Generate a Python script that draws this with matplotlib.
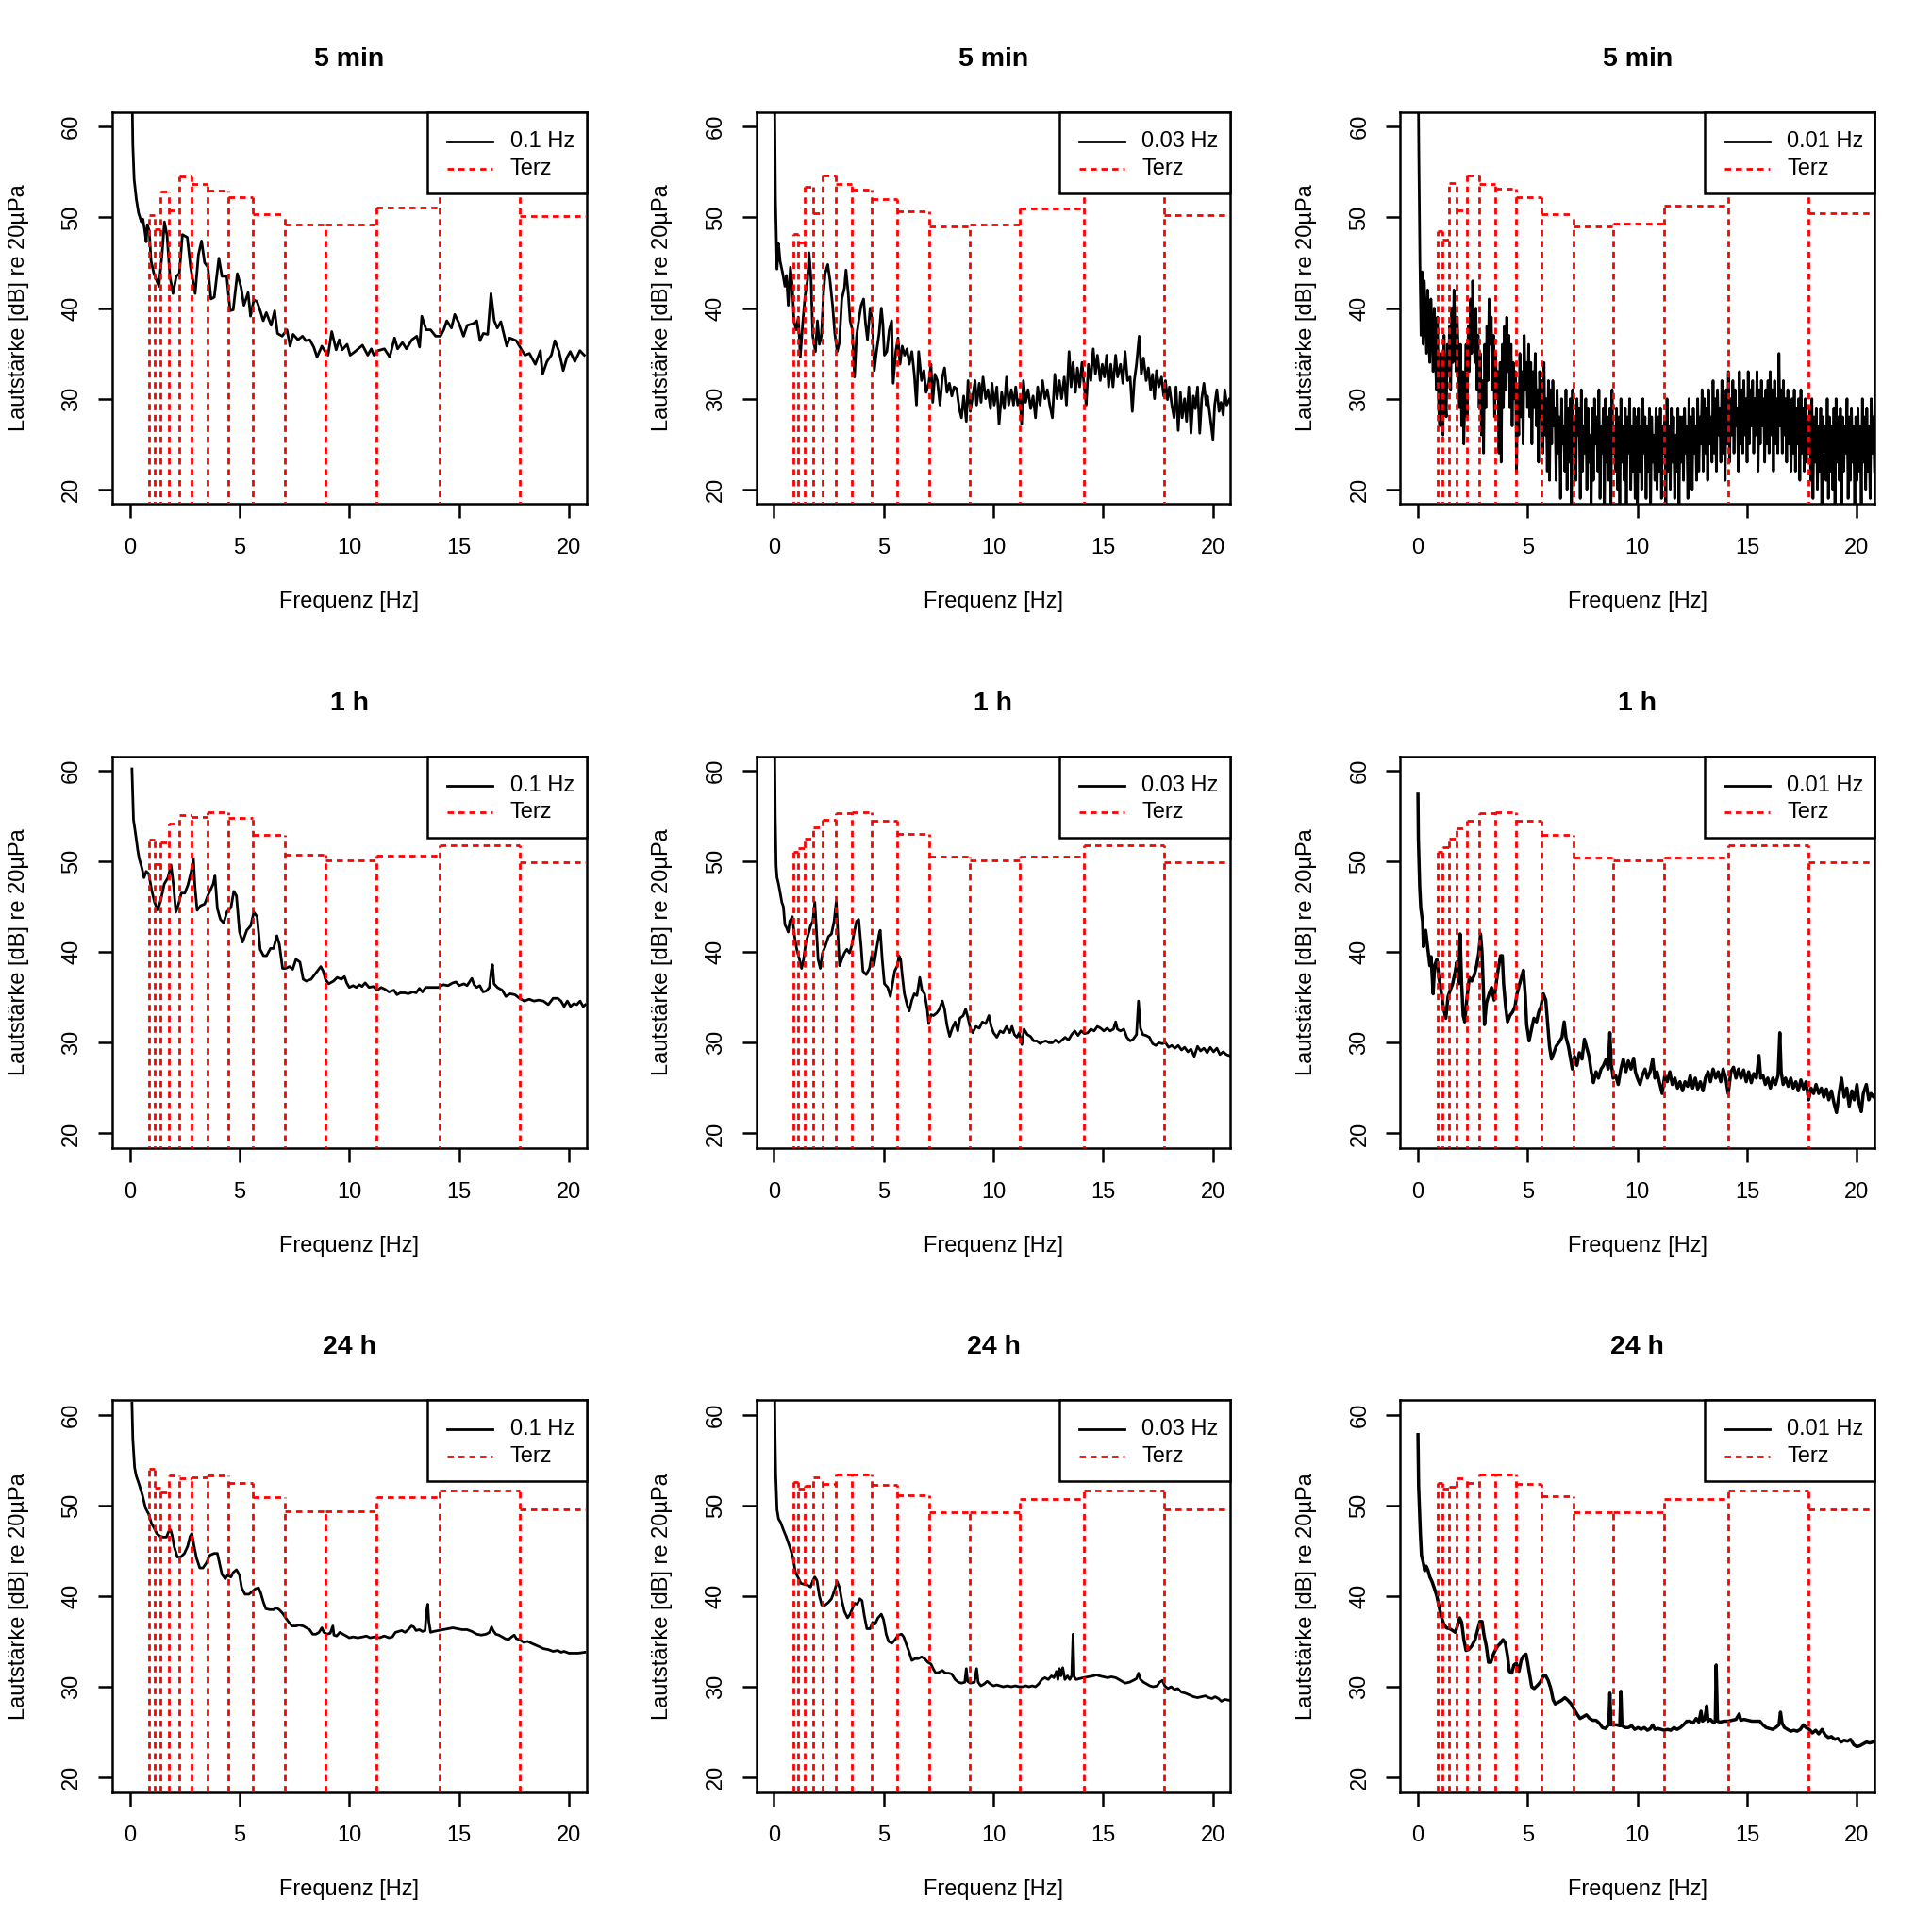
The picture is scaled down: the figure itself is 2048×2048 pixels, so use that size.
import numpy as np
import matplotlib.pyplot as plt
from matplotlib.patches import Rectangle
from matplotlib.lines import Line2D

plt.rcParams['font.family'] = ['Liberation Sans', 'DejaVu Sans']
plt.rcParams['lines.scale_dashes'] = False

# third-octave band centres (nominal) [Hz]
terz_fc = [1, 1.25, 1.6, 2, 2.5, 3.15, 4, 5, 6.3, 8, 10, 12.5, 16, 20]
row_titles = ['5 min', '1 h', '24 h']
col_labels = ['0.1 Hz', '0.03 Hz', '0.01 Hz']

# Terz levels [dB] per panel
terz_5min_01 = [50.3, 48.7, 52.9, 50.8, 54.5, 53.7, 53.0, 52.2, 50.4, 49.2, 49.2, 51.1, 53.5, 50.1]
terz_5min_003 = [48.2, 47.2, 53.4, 50.5, 54.6, 53.7, 53.1, 52.0, 50.7, 49.0, 49.2, 51.0, 53.5, 50.3]
terz_5min_001 = [48.5, 47.5, 53.8, 50.8, 54.6, 53.7, 53.2, 52.2, 50.4, 49.0, 49.3, 51.3, 53.5, 50.5]
terz_1h_01 = [52.4, 49.7, 52.1, 54.2, 55.1, 54.9, 55.4, 54.8, 52.9, 50.7, 50.1, 50.6, 51.8, 49.9]
terz_1h_003 = [51.1, 51.5, 52.5, 53.8, 54.6, 55.3, 55.4, 54.5, 53.0, 50.5, 50.1, 50.5, 51.8, 49.9]
terz_1h_001 = [51.0, 51.6, 52.5, 53.6, 54.5, 55.3, 55.4, 54.5, 52.9, 50.4, 50.1, 50.4, 51.8, 49.9]
terz_24h_01 = [54.0, 51.9, 51.4, 53.3, 53.0, 53.1, 53.3, 52.5, 50.9, 49.4, 49.3, 50.9, 51.6, 49.6]
terz_24h_003 = [52.6, 51.8, 52.2, 53.1, 52.4, 53.4, 53.4, 52.3, 51.1, 49.2, 49.2, 50.7, 51.6, 49.6]
terz_24h_001 = [52.5, 51.8, 52.1, 53.0, 52.5, 53.4, 53.4, 52.4, 51.0, 49.2, 49.2, 50.7, 51.6, 49.6]

# spectra as (frequency [Hz], level [dB])
spec_5min_01 = [
    (0.1, 65), (0.14, 58), (0.2, 54.2), (0.3, 52), (0.4, 50.5), (0.53, 49.5), (0.6, 49.8), (0.68, 48.6),
    (0.75, 47.3), (0.8, 49.2), (0.89, 48.5), (0.97, 45.2), (1.1, 43.8), (1.33, 42.4), (1.47, 45.9),
    (1.58, 49.5), (1.7, 48), (1.83, 43.5), (1.97, 41.6), (2.12, 43.5), (2.26, 43.8), (2.4, 48.1),
    (2.62, 47.8), (2.77, 44.5), (2.98, 41.6), (3.13, 45.9), (3.27, 47.4), (3.41, 45), (3.56, 44.5),
    (3.7, 41), (3.85, 41.2), (4.06, 45.5), (4.2, 43.5), (4.42, 43.5), (4.57, 39.7), (4.71, 39.8),
    (4.9, 43.8), (5.07, 42.3), (5.2, 40.3), (5.39, 41.7), (5.5, 39.1), (5.65, 40.9), (5.8, 40.7),
    (5.94, 39.7), (6.08, 38.6), (6.22, 39.5), (6.44, 38.1), (6.6, 39.7), (6.73, 37.2), (6.94, 36.9),
    (7.16, 37.6), (7.3, 35.8), (7.44, 37.1), (7.66, 36.5), (7.87, 36.9), (8.02, 36.4), (8.2, 36.5),
    (8.38, 35.7), (8.53, 34.6), (8.75, 35.8), (8.9, 35.2), (9.03, 34.8), (9.2, 37.4), (9.4, 35.4),
    (9.54, 36.5), (9.68, 35.4), (9.9, 36), (10.04, 34.8), (10.26, 35.2), (10.5, 35.7), (10.6, 35.9),
    (10.84, 34.8), (11.0, 35.5), (11.12, 34.8), (11.3, 35.3), (11.6, 35.5), (11.84, 34.6), (12.06, 36.7),
    (12.2, 35.5), (12.42, 36.2), (12.6, 35.5), (12.85, 36.5), (13.07, 36.9), (13.2, 35.7), (13.3, 39.1),
    (13.5, 37.6), (13.7, 37.6), (13.93, 36.9), (14.15, 36.9), (14.3, 37.6), (14.44, 38.6), (14.65, 37.8),
    (14.8, 39.3), (15.0, 38.3), (15.2, 36.9), (15.37, 38.1), (15.65, 38.3), (15.8, 38.6), (15.95, 36.4),
    (16.1, 37.2), (16.3, 37.1), (16.45, 41.6), (16.6, 38.6), (16.74, 37.8), (16.9, 38.5), (17.03, 37.2),
    (17.17, 35.8), (17.3, 36.7), (17.6, 36.4), (17.82, 35.5), (18.0, 34.8), (18.2, 35), (18.47, 33.8),
    (18.7, 35.3), (18.8, 32.7), (19.0, 34.1), (19.2, 34.8), (19.36, 36.4), (19.55, 35.2), (19.74, 33.1),
    (19.9, 34.5), (20.06, 35.2), (20.27, 34.1), (20.5, 35.3), (20.7, 34.8)]

spec_5min_003 = [
    (0.03, 66), (0.08, 52), (0.12, 47.3), (0.15, 44.3), (0.22, 47.1), (0.29, 45.2), (0.41, 43.8),
    (0.51, 42.4), (0.58, 43.6), (0.66, 40.3), (0.76, 44.5), (0.85, 42.4), (0.92, 38.6), (1.02, 37.6),
    (1.12, 39), (1.21, 34.6), (1.32, 38.3), (1.43, 41.4), (1.54, 43.1), (1.61, 46.1), (1.7, 43.1),
    (1.78, 36.9), (1.9, 35.2), (1.99, 38.6), (2.08, 36), (2.17, 36.9), (2.27, 41.7), (2.34, 43.8),
    (2.46, 44.8), (2.56, 43.1), (2.68, 40.3), (2.78, 37.2), (2.89, 35.2), (2.99, 36.2), (3.1, 41),
    (3.22, 42.2), (3.29, 44.2), (3.39, 41.7), (3.48, 38.6), (3.58, 37.6), (3.68, 32.4), (3.77, 36.9),
    (3.87, 38.6), (3.98, 40.3), (4.09, 41), (4.18, 38.3), (4.27, 36.5), (4.39, 40), (4.5, 38.3),
    (4.58, 33.1), (4.68, 35.2), (4.8, 37.2), (4.9, 40), (4.97, 38.3), (5.04, 34.8), (5.15, 35.2),
    (5.26, 37.6), (5.37, 38.6), (5.44, 31.7), (5.56, 35.2), (5.66, 36.7), (5.75, 33.8), (5.85, 35.8),
    (5.96, 34.8), (6.07, 35.5), (6.17, 33.8), (6.29, 35.2), (6.4, 32.7), (6.5, 29.3), (6.6, 35.2),
    (6.73, 32), (6.84, 33.1), (6.94, 30.7), (7.06, 31.7), (7.16, 33.8), (7.24, 29.6), (7.34, 32.7),
    (7.45, 32), (7.57, 29.3), (7.68, 32.4), (7.78, 33.4), (7.89, 30.7), (8.0, 31.7), (8.11, 30.3),
    (8.21, 31.3), (8.33, 31.1), (8.45, 28.9), (8.55, 27.9), (8.65, 30.3), (8.77, 27.5), (8.85, 32),
    (8.95, 28.6), (9.06, 30.3), (9.17, 32), (9.24, 29.3), (9.36, 31.7), (9.44, 29.6), (9.53, 32.4),
    (9.65, 30), (9.75, 31), (9.87, 28.9), (9.94, 31.7), (10.04, 29.3), (10.16, 31.3), (10.26, 27.2),
    (10.38, 30.7), (10.5, 28.9), (10.6, 32.4), (10.7, 29.3), (10.82, 31), (10.92, 29.3), (11.02, 31.3),
    (11.11, 29.3), (11.21, 30), (11.29, 27.2), (11.37, 32), (11.47, 29.6), (11.58, 31), (11.7, 28.9),
    (11.81, 30.3), (11.92, 27.9), (12.02, 31.3), (12.13, 29.3), (12.24, 32), (12.35, 30), (12.46, 31),
    (12.57, 29.3), (12.69, 27.9), (12.8, 32.7), (12.9, 30), (13.01, 32), (13.11, 30), (13.23, 32.4),
    (13.33, 29.3), (13.45, 35.2), (13.54, 31.3), (13.63, 34), (13.74, 30.7), (13.83, 33.4), (13.93, 31.3),
    (14.04, 34), (14.14, 31.3), (14.23, 29.3), (14.33, 33.8), (14.44, 32), (14.55, 35.5), (14.65, 32.7),
    (14.74, 34.8), (14.87, 32), (14.96, 33.8), (15.06, 32.4), (15.16, 34.8), (15.25, 31.3), (15.35, 33.8),
    (15.45, 31.3), (15.57, 34.8), (15.66, 32.4), (15.79, 33.8), (15.9, 31.7), (16.0, 35.2), (16.11, 32),
    (16.23, 32.4), (16.33, 28.6), (16.42, 32), (16.52, 33.8), (16.64, 36.9), (16.74, 32.7), (16.84, 34.5),
    (16.96, 32), (17.06, 33.4), (17.16, 31), (17.25, 32.7), (17.34, 30), (17.43, 33.1), (17.54, 31.3),
    (17.66, 32.4), (17.76, 30.3), (17.84, 32), (17.93, 29.9), (18.02, 31.3), (18.13, 29.3), (18.23, 27.9),
    (18.32, 31.3), (18.42, 26.5), (18.52, 30.7), (18.6, 27.9), (18.71, 30), (18.8, 27.5), (18.9, 31.3),
    (19.0, 26.2), (19.11, 30.3), (19.2, 28.9), (19.3, 31.3), (19.4, 26.2), (19.49, 30), (19.59, 31.7),
    (19.7, 29.3), (19.75, 30.3), (19.88, 27.9), (20.0, 25.5), (20.08, 29.3), (20.18, 31), (20.28, 28.6),
    (20.37, 29.6), (20.47, 28.2), (20.54, 31), (20.63, 29.3), (20.76, 30), (20.85, 29)]

# 0.01 Hz panel: one start point, then levels on a 0.05 Hz grid (0.05 ... 20.8 Hz)
f_5min_001 = np.concatenate([[0.02], np.arange(1, 417) * 0.05])
L_5min_001 = [
    66,
    57, 45, 37, 44, 36, 43, 39, 35, 42, 36, 34, 41, 38, 33, 40, 35, 31, 39, 29, 27,
    35, 31, 26, 37, 30, 28, 36, 33, 38, 31, 40, 34, 42, 38, 33, 39, 35, 29, 36, 27,
    33, 25, 30, 36, 28, 38, 33, 41, 35, 43, 38, 34, 40, 31, 37, 29, 35, 26, 32, 24,
    36, 29, 38, 32, 41, 36, 39, 31, 37, 28, 35, 30, 33, 24, 34, 23, 36, 29, 38, 31,
    39, 33, 37, 29, 36, 27, 34, 30, 33, 22, 31, 26, 35, 28, 33, 25, 37, 31, 34, 29,
    36, 28, 34, 25, 33, 29, 35, 27, 31, 23, 33, 28, 32, 24, 34, 26, 30, 22, 32, 21,
    31, 25, 32, 27, 29, 21, 31, 24, 28, 19, 30, 25, 27, 22, 31, 20, 29, 23, 30, 18,
    31, 24, 28, 21, 30, 26, 29, 19, 31, 22, 27, 24, 30, 20, 29, 23, 26, 18, 29, 21,
    30, 25, 28, 22, 31, 19, 27, 24, 29, 17, 30, 23, 28, 21, 29, 18, 31, 24, 27, 22,
    29, 20, 28, 17, 30, 23, 27, 21, 29, 18, 28, 24, 30, 20, 27, 22, 29, 19, 28, 17,
    29, 22, 27, 20, 30, 24, 28, 19, 27, 22, 29, 17, 28, 23, 26, 21, 29, 20, 28, 22,
    29, 19, 27, 24, 28, 18, 30, 22, 27, 20, 29, 23, 28, 19, 26, 22, 29, 18, 28, 23,
    28, 21, 29, 24, 27, 19, 30, 23, 28, 20, 29, 24, 27, 21, 30, 22, 28, 25, 31, 22,
    30, 24, 29, 21, 31, 25, 28, 23, 32, 24, 30, 22, 31, 26, 29, 23, 32, 24, 30, 21,
    31, 25, 33, 23, 30, 26, 32, 24, 31, 27, 29, 22, 33, 25, 31, 24, 32, 26, 30, 23,
    33, 25, 31, 27, 32, 24, 30, 26, 33, 22, 31, 25, 32, 27, 30, 23, 31, 25, 32, 24,
    33, 26, 31, 22, 32, 25, 30, 24, 35, 27, 31, 24, 32, 26, 30, 23, 31, 25, 29, 22,
    30, 24, 31, 22, 29, 25, 30, 21, 31, 24, 29, 22, 30, 23, 28, 24, 29, 21, 30, 19,
    28, 23, 29, 20, 27, 22, 29, 18, 28, 24, 27, 21, 30, 19, 28, 22, 27, 20, 29, 18,
    30, 23, 28, 21, 29, 18, 28, 22, 27, 24, 30, 19, 28, 21, 29, 23, 27, 18, 28, 21,
    29, 22, 27, 18, 30, 23, 28, 20, 29, 22, 27, 19, 30, 24, 28, 22]

spec_1h_01 = [
    (0.1, 60.2), (0.17, 54.6), (0.26, 53.1), (0.36, 51.3), (0.43, 50.3), (0.55, 49.3), (0.65, 48.2),
    (0.75, 48.9), (0.87, 48.6), (0.99, 46.9), (1.13, 45.5), (1.28, 44.6), (1.42, 45.8), (1.57, 47.5),
    (1.74, 48.2), (1.88, 49.6), (2.0, 47.2), (2.1, 44.4), (2.2, 45.1), (2.35, 46.5), (2.51, 46.5),
    (2.65, 47.4), (2.8, 48.9), (2.9, 50.3), (2.97, 47.2), (3.07, 44.6), (3.22, 45.1), (3.41, 45.3),
    (3.55, 46.2), (3.65, 46.7), (3.8, 47.5), (3.88, 48.4), (3.99, 44.8), (4.13, 43.6), (4.28, 43.2),
    (4.42, 44.4), (4.61, 44.9), (4.74, 46.7), (4.86, 46.2), (5.0, 42.2), (5.14, 41.1), (5.33, 42.4),
    (5.51, 42.9), (5.65, 44.4), (5.8, 43.9), (5.94, 40.3), (6.09, 39.6), (6.23, 39.6), (6.41, 40.4),
    (6.55, 40.4), (6.7, 41.8), (6.81, 40.9), (6.96, 38.2), (7.1, 38.2), (7.28, 38.4), (7.42, 38.1),
    (7.57, 39.2), (7.75, 38.9), (7.9, 37.0), (8.04, 36.8), (8.26, 37.0), (8.48, 37.7), (8.7, 38.4),
    (8.81, 37.9), (8.91, 37.0), (9.06, 36.5), (9.28, 36.8), (9.45, 37.2), (9.64, 37.0), (9.78, 37.3),
    (9.88, 36.6), (10.0, 36.1), (10.17, 36.3), (10.32, 36.1), (10.46, 36.4), (10.58, 36.2), (10.72, 36.6),
    (10.9, 36.1), (11.09, 36.2), (11.28, 35.8), (11.45, 36.1), (11.62, 35.9), (11.81, 35.6), (12.03, 35.8),
    (12.17, 35.3), (12.32, 35.5), (12.54, 35.5), (12.68, 35.4), (12.9, 35.6), (13.04, 35.5), (13.19, 36.0),
    (13.33, 35.6), (13.48, 36.1), (13.7, 36.1), (13.88, 36.1), (14.06, 36.1), (14.28, 36.4), (14.49, 36.3),
    (14.71, 36.6), (14.86, 36.7), (15.0, 36.3), (15.22, 36.5), (15.36, 36.3), (15.58, 37.1), (15.68, 36.4),
    (15.8, 36.1), (15.94, 36.3), (16.09, 35.6), (16.23, 35.7), (16.38, 36.1), (16.46, 37.9), (16.52, 38.6),
    (16.59, 36.5), (16.74, 36.1), (16.96, 35.8), (17.13, 35.1), (17.32, 35.4), (17.54, 35.3), (17.75, 34.9),
    (17.97, 34.6), (18.19, 34.8), (18.41, 34.6), (18.62, 34.7), (18.84, 34.6), (19.06, 34.2), (19.28, 34.9),
    (19.49, 34.9), (19.64, 34.6), (19.78, 34.0), (19.93, 34.6), (20.07, 34.0), (20.22, 34.3), (20.36, 34.2),
    (20.51, 34.6), (20.65, 34.0), (20.75, 34.2)]

spec_1h_003 = [
    (0.03, 66), (0.07, 55), (0.11, 49.5), (0.15, 48.2), (0.22, 47.5), (0.37, 45.5), (0.44, 45.0),
    (0.51, 43.0), (0.58, 42.7), (0.66, 42.2), (0.73, 43.4), (0.85, 43.9), (0.95, 41.7), (1.05, 40.3),
    (1.17, 39.2), (1.27, 38.2), (1.36, 39.2), (1.46, 41.0), (1.58, 42.0), (1.68, 42.9), (1.78, 43.4),
    (1.87, 45.5), (1.93, 43.1), (2.02, 39.2), (2.12, 38.2), (2.22, 39.9), (2.34, 40.6), (2.49, 41.7),
    (2.63, 42.0), (2.75, 43.4), (2.85, 45.6), (2.92, 42.0), (3.0, 38.5), (3.1, 39.2), (3.22, 39.9),
    (3.33, 40.3), (3.45, 39.9), (3.54, 40.6), (3.65, 42.0), (3.77, 43.4), (3.87, 43.6), (3.98, 40.6),
    (4.06, 37.9), (4.21, 37.5), (4.36, 38.2), (4.46, 39.6), (4.56, 38.5), (4.68, 40.3), (4.8, 42.0),
    (4.85, 42.4), (4.94, 39.2), (5.04, 36.5), (5.19, 36.1), (5.31, 35.1), (5.41, 36.5), (5.51, 37.9),
    (5.63, 38.5), (5.7, 39.6), (5.78, 39.2), (5.85, 37.5), (5.95, 35.4), (6.07, 34.2), (6.17, 33.5),
    (6.29, 34.7), (6.4, 35.4), (6.52, 35.2), (6.65, 37.2), (6.75, 35.8), (6.87, 35.4), (6.99, 33.7),
    (7.06, 32.1), (7.16, 33.1), (7.28, 33.0), (7.43, 33.3), (7.54, 33.7), (7.68, 34.6), (7.78, 33.7),
    (7.89, 31.9), (8.01, 30.7), (8.13, 31.6), (8.26, 32.3), (8.38, 31.3), (8.48, 32.7), (8.63, 33.0),
    (8.74, 33.7), (8.85, 32.7), (8.95, 31.6), (9.06, 31.1), (9.21, 31.8), (9.36, 31.6), (9.5, 32.3),
    (9.65, 32.1), (9.8, 33.0), (9.9, 31.8), (10.01, 31.1), (10.16, 30.6), (10.31, 31.3), (10.45, 31.1),
    (10.6, 31.8), (10.75, 31.1), (10.85, 31.8), (10.96, 30.9), (11.08, 30.6), (11.18, 31.1), (11.3, 29.8),
    (11.4, 31.5), (11.55, 30.9), (11.69, 30.7), (11.84, 30.2), (11.98, 30.2), (12.13, 29.9), (12.25, 30.1),
    (12.4, 30.2), (12.54, 30.0), (12.69, 30.0), (12.83, 30.3), (12.98, 30.0), (13.13, 30.3), (13.27, 30.6),
    (13.42, 30.3), (13.57, 30.9), (13.71, 31.3), (13.86, 30.8), (14.0, 31.3), (14.15, 31.0), (14.3, 31.1),
    (14.44, 31.5), (14.59, 31.3), (14.74, 31.8), (14.89, 31.6), (15.03, 31.3), (15.18, 31.6), (15.32, 31.3),
    (15.47, 31.5), (15.57, 32.3), (15.65, 31.5), (15.79, 31.3), (15.94, 31.5), (16.08, 30.6), (16.23, 30.2),
    (16.37, 30.4), (16.52, 30.9), (16.61, 34.6), (16.7, 31.6), (16.81, 30.9), (16.96, 30.8), (17.11, 30.6),
    (17.25, 29.9), (17.4, 29.7), (17.54, 30.0), (17.69, 29.9), (17.84, 30.0), (17.98, 29.5), (18.13, 29.7),
    (18.27, 29.4), (18.42, 29.7), (18.57, 29.2), (18.71, 29.5), (18.86, 29.0), (19.0, 29.3), (19.15, 28.5),
    (19.3, 29.6), (19.44, 29.1), (19.59, 29.4), (19.74, 28.9), (19.88, 29.5), (20.03, 29.0), (20.18, 29.4),
    (20.32, 28.7), (20.47, 29.0), (20.61, 28.7), (20.83, 28.5)]

spec_1h_001 = [
    (0.01, 57.4), (0.03, 52.4), (0.09, 47.2), (0.14, 44.8), (0.22, 43.4), (0.26, 40.6), (0.36, 42.4),
    (0.46, 40.3), (0.55, 38.5), (0.61, 39.5), (0.7, 35.4), (0.77, 38.5), (0.87, 39.2), (0.96, 37.2),
    (1.04, 36.1), (1.16, 34.0), (1.28, 32.7), (1.38, 35.1), (1.48, 35.8), (1.59, 36.5), (1.71, 37.9),
    (1.78, 38.9), (1.86, 36.5), (1.93, 42.0), (2.0, 36.5), (2.07, 33.0), (2.14, 32.3), (2.25, 35.1),
    (2.35, 37.2), (2.46, 36.8), (2.58, 37.5), (2.68, 38.5), (2.78, 39.9), (2.86, 42.0), (2.93, 39.9),
    (2.99, 35.8), (3.04, 32.0), (3.13, 34.4), (3.25, 35.4), (3.36, 36.1), (3.48, 34.7), (3.57, 36.5),
    (3.67, 38.2), (3.77, 39.6), (3.85, 39.6), (3.91, 36.5), (4.0, 34.0), (4.09, 32.3), (4.2, 33.0),
    (4.32, 33.4), (4.43, 34.0), (4.52, 35.4), (4.64, 36.5), (4.72, 37.2), (4.81, 38.0), (4.9, 35.1),
    (4.96, 32.0), (5.07, 30.2), (5.19, 31.6), (5.29, 32.7), (5.41, 32.3), (5.51, 33.4), (5.61, 34.0),
    (5.72, 35.4), (5.83, 34.7), (5.91, 32.3), (6.0, 29.6), (6.09, 28.2), (6.2, 28.9), (6.3, 29.6),
    (6.45, 30.1), (6.57, 30.6), (6.67, 32.3), (6.75, 30.6), (6.86, 29.6), (6.96, 28.2), (7.04, 27.1),
    (7.14, 28.5), (7.25, 27.5), (7.36, 28.9), (7.48, 28.2), (7.59, 30.4), (7.68, 29.6), (7.8, 28.5),
    (7.9, 26.8), (8.0, 25.6), (8.12, 26.8), (8.23, 26.1), (8.35, 27.1), (8.46, 27.5), (8.58, 28.2),
    (8.67, 27.1), (8.75, 31.1), (8.81, 27.8), (8.9, 26.1), (9.01, 26.4), (9.13, 25.4), (9.25, 27.1),
    (9.36, 28.2), (9.48, 26.8), (9.59, 28.0), (9.71, 27.1), (9.83, 28.3), (9.91, 26.8), (10.0, 26.1),
    (10.12, 25.4), (10.23, 26.4), (10.35, 27.1), (10.46, 26.1), (10.58, 26.8), (10.7, 28.2), (10.8, 26.1),
    (10.9, 26.8), (11.01, 25.6), (11.13, 24.4), (11.25, 26.4), (11.36, 25.7), (11.48, 26.8), (11.59, 25.4),
    (11.71, 26.1), (11.83, 25.0), (11.94, 25.7), (12.06, 24.7), (12.17, 25.7), (12.29, 25.2), (12.41, 26.4),
    (12.52, 25.0), (12.64, 26.1), (12.75, 24.9), (12.87, 25.7), (12.99, 24.7), (13.1, 26.1), (13.22, 26.8),
    (13.33, 25.7), (13.45, 27.1), (13.57, 26.1), (13.68, 26.8), (13.8, 25.7), (13.91, 27.1), (14.03, 26.1),
    (14.14, 24.4), (14.26, 26.8), (14.38, 27.3), (14.49, 26.1), (14.61, 27.1), (14.72, 26.1), (14.84, 27.0),
    (14.96, 25.7), (15.07, 26.8), (15.19, 25.6), (15.3, 26.6), (15.42, 26.1), (15.54, 28.6), (15.62, 26.1),
    (15.72, 26.4), (15.83, 25.4), (15.94, 26.1), (16.06, 25.0), (16.17, 26.1), (16.29, 25.4), (16.41, 26.4),
    (16.49, 31.1), (16.55, 26.8), (16.64, 25.4), (16.75, 26.1), (16.87, 25.2), (16.99, 26.1), (17.1, 25.0),
    (17.22, 25.7), (17.33, 24.7), (17.45, 25.9), (17.57, 24.9), (17.68, 25.7), (17.8, 23.7), (17.91, 25.0),
    (18.03, 24.4), (18.14, 25.4), (18.26, 24.4), (18.38, 25.0), (18.49, 24.0), (18.61, 24.9), (18.72, 23.7),
    (18.84, 24.7), (18.96, 23.3), (19.07, 22.3), (19.19, 24.4), (19.3, 26.1), (19.42, 24.0), (19.54, 25.0),
    (19.65, 23.0), (19.77, 24.7), (19.88, 23.7), (20.0, 25.4), (20.1, 23.3), (20.2, 22.4), (20.29, 24.4),
    (20.43, 25.4), (20.54, 23.7), (20.64, 24.4), (20.76, 24.0), (20.85, 24.5)]

spec_24h_01 = [
    (0.1, 61.3), (0.14, 57.3), (0.22, 54.2), (0.29, 53.3), (0.43, 52.3), (0.58, 51.1), (0.72, 49.7),
    (0.87, 49.0), (0.99, 48.0), (1.09, 47.6), (1.23, 46.9), (1.38, 46.6), (1.52, 46.5), (1.67, 46.5),
    (1.77, 47.1), (1.86, 47.3), (1.93, 46.7), (2.03, 45.4), (2.17, 44.3), (2.32, 44.3), (2.49, 44.7),
    (2.64, 45.5), (2.75, 46.6), (2.83, 46.9), (2.93, 45.5), (3.04, 44.2), (3.19, 43.1), (3.33, 43.1),
    (3.48, 43.6), (3.65, 44.5), (3.84, 44.7), (3.99, 44.7), (4.09, 43.6), (4.2, 42.4), (4.35, 41.9),
    (4.46, 42.3), (4.61, 42.1), (4.71, 42.6), (4.86, 42.9), (5.0, 42.3), (5.1, 40.9), (5.25, 40.2),
    (5.43, 40.2), (5.58, 40.5), (5.72, 40.8), (5.87, 40.9), (5.97, 40.3), (6.09, 39.3), (6.2, 38.6),
    (6.38, 38.5), (6.55, 38.5), (6.67, 38.7), (6.81, 38.5), (6.96, 38.1), (7.1, 37.6), (7.25, 37.1),
    (7.39, 36.7), (7.57, 36.7), (7.71, 36.8), (7.9, 36.7), (8.04, 36.5), (8.19, 36.3), (8.33, 35.8),
    (8.48, 35.8), (8.62, 36.0), (8.75, 36.5), (8.84, 36.0), (8.99, 35.8), (9.13, 35.9), (9.25, 36.7),
    (9.3, 35.7), (9.42, 35.6), (9.57, 36.0), (9.71, 35.8), (9.86, 35.6), (10.0, 35.4), (10.17, 35.5),
    (10.39, 35.4), (10.61, 35.5), (10.78, 35.6), (10.94, 35.4), (11.16, 35.5), (11.38, 35.4), (11.59, 35.6),
    (11.81, 35.4), (11.96, 35.5), (12.1, 36.0), (12.25, 36.1), (12.39, 36.2), (12.54, 36.0), (12.68, 36.3),
    (12.83, 36.7), (12.93, 36.6), (13.04, 36.2), (13.19, 36.3), (13.33, 36.1), (13.45, 36.2), (13.51, 38.3),
    (13.57, 39.1), (13.62, 37.2), (13.7, 36.0), (13.84, 36.1), (14.06, 36.2), (14.28, 36.3), (14.49, 36.4),
    (14.71, 36.5), (14.93, 36.4), (15.14, 36.3), (15.36, 36.3), (15.58, 36.1), (15.8, 35.8), (16.01, 35.7),
    (16.23, 35.8), (16.38, 36.0), (16.48, 36.6), (16.55, 36.2), (16.67, 35.8), (16.81, 35.7), (16.96, 35.5),
    (17.1, 35.3), (17.25, 35.2), (17.39, 35.5), (17.51, 35.7), (17.61, 35.3), (17.75, 35.2), (17.94, 34.9),
    (18.12, 35.0), (18.29, 34.8), (18.48, 34.6), (18.67, 34.4), (18.84, 34.2), (19.06, 34.1), (19.28, 33.9),
    (19.49, 34.0), (19.64, 33.8), (19.78, 33.9), (20.0, 33.7), (20.22, 33.7), (20.43, 33.7), (20.72, 33.8)]

spec_24h_003 = [
    (0.03, 66), (0.06, 58), (0.09, 53.5), (0.12, 51.5), (0.15, 49.5), (0.22, 48.5), (0.32, 48.1),
    (0.44, 47.3), (0.56, 46.6), (0.66, 45.9), (0.76, 45.2), (0.88, 44.2), (0.99, 42.6), (1.1, 42.1),
    (1.24, 41.4), (1.39, 41.3), (1.54, 41.2), (1.68, 41.0), (1.78, 41.7), (1.87, 42.1), (1.97, 41.7),
    (2.08, 40.0), (2.19, 39.0), (2.34, 39.0), (2.49, 39.3), (2.63, 39.7), (2.78, 40.7), (2.89, 41.6),
    (3.0, 40.9), (3.1, 39.5), (3.22, 38.3), (3.36, 37.6), (3.48, 38.0), (3.58, 38.6), (3.68, 39.2),
    (3.8, 39.1), (3.92, 39.7), (4.02, 39.5), (4.12, 37.9), (4.24, 36.4), (4.39, 36.4), (4.5, 37.1),
    (4.61, 36.9), (4.75, 37.6), (4.9, 38.0), (5.0, 37.4), (5.12, 35.8), (5.23, 35.0), (5.38, 34.8),
    (5.53, 35.2), (5.67, 35.7), (5.82, 35.8), (5.92, 35.5), (6.02, 34.8), (6.17, 33.8), (6.29, 32.9),
    (6.43, 33.1), (6.58, 33.1), (6.73, 33.3), (6.87, 33.1), (7.02, 32.7), (7.16, 32.5), (7.28, 31.9),
    (7.38, 31.5), (7.53, 31.6), (7.68, 31.8), (7.82, 31.5), (7.97, 31.5), (8.11, 31.4), (8.26, 30.8),
    (8.41, 30.5), (8.55, 30.4), (8.7, 30.5), (8.77, 32.0), (8.83, 30.6), (8.95, 30.4), (9.14, 30.5),
    (9.24, 32.0), (9.31, 30.5), (9.43, 30.1), (9.58, 30.3), (9.72, 30.6), (9.87, 30.3), (10.01, 30.1),
    (10.16, 30.2), (10.31, 30.1), (10.45, 30.0), (10.64, 30.1), (10.82, 30.0), (11.0, 30.1), (11.18, 30.0),
    (11.33, 30.0), (11.48, 30.1), (11.62, 30.0), (11.77, 30.1), (11.92, 30.0), (12.06, 30.3), (12.21, 30.8),
    (12.35, 31.0), (12.5, 30.8), (12.65, 31.2), (12.76, 31.0), (12.87, 31.7), (12.94, 30.8), (13.01, 32.0),
    (13.08, 31.2), (13.16, 32.1), (13.26, 30.8), (13.38, 31.2), (13.48, 30.8), (13.57, 31.2), (13.63, 35.8),
    (13.68, 31.1), (13.77, 30.8), (13.92, 30.9), (14.1, 31.0), (14.33, 31.1), (14.55, 31.2), (14.69, 31.3),
    (14.84, 31.2), (15.03, 31.1), (15.2, 31.0), (15.38, 31.1), (15.57, 31.0), (15.72, 30.8), (15.86, 30.6),
    (16.01, 30.4), (16.2, 30.5), (16.37, 30.7), (16.52, 30.9), (16.61, 31.5), (16.7, 30.8), (16.84, 30.5),
    (16.99, 30.3), (17.13, 30.1), (17.28, 30.0), (17.46, 30.1), (17.57, 30.5), (17.7, 30.7), (17.81, 30.1),
    (17.95, 29.8), (18.1, 30.0), (18.25, 29.7), (18.4, 29.8), (18.57, 29.4), (18.74, 29.3), (18.93, 29.1),
    (19.12, 28.9), (19.3, 28.8), (19.47, 28.9), (19.66, 29.0), (19.81, 28.8), (19.96, 28.7), (20.1, 28.9),
    (20.25, 28.7), (20.39, 28.4), (20.54, 28.6), (20.76, 28.5)]

spec_24h_001 = [
    (0.01, 57.8), (0.04, 52.1), (0.12, 46.9), (0.17, 44.5), (0.26, 43.6), (0.32, 42.8), (0.38, 43.3),
    (0.46, 42.9), (0.55, 42.1), (0.65, 41.6), (0.75, 40.9), (0.87, 40.0), (0.99, 38.6), (1.09, 37.6),
    (1.19, 36.9), (1.3, 36.5), (1.45, 36.4), (1.59, 36.2), (1.71, 36.0), (1.81, 36.7), (1.91, 37.6),
    (2.0, 37.1), (2.1, 35.2), (2.2, 34.0), (2.32, 34.1), (2.46, 34.5), (2.61, 35.2), (2.72, 36.2),
    (2.83, 37.2), (2.93, 37.2), (3.01, 35.8), (3.12, 34.5), (3.22, 32.7), (3.33, 32.7), (3.45, 33.6),
    (3.55, 34.1), (3.65, 34.5), (3.77, 34.8), (3.88, 35.2), (3.99, 34.8), (4.09, 33.4), (4.17, 31.7),
    (4.28, 31.5), (4.38, 32.4), (4.49, 32.6), (4.61, 31.7), (4.71, 32.9), (4.81, 33.4), (4.93, 33.6),
    (5.0, 32.7), (5.1, 31.3), (5.19, 30.0), (5.3, 29.8), (5.43, 30.1), (5.58, 30.5), (5.72, 31.2),
    (5.83, 31.2), (5.94, 30.7), (6.06, 29.8), (6.16, 28.6), (6.26, 28.1), (6.41, 28.3), (6.55, 28.5),
    (6.7, 28.8), (6.84, 28.5), (6.99, 28.1), (7.1, 27.6), (7.25, 27.0), (7.39, 26.5), (7.54, 26.7),
    (7.68, 26.9), (7.83, 26.5), (7.97, 26.3), (8.12, 26.3), (8.26, 26.0), (8.41, 25.5), (8.55, 25.4),
    (8.7, 25.8), (8.75, 29.3), (8.8, 25.8), (8.91, 25.8), (9.06, 25.8), (9.2, 25.7), (9.25, 29.5),
    (9.3, 25.7), (9.45, 25.5), (9.59, 25.5), (9.74, 25.7), (9.88, 25.3), (10.03, 25.5), (10.17, 25.3),
    (10.32, 25.5), (10.46, 25.2), (10.6, 25.4), (10.7, 25.8), (10.8, 25.3), (10.94, 25.4), (11.09, 25.3),
    (11.23, 25.2), (11.38, 25.3), (11.52, 25.2), (11.67, 25.5), (11.81, 25.3), (11.96, 25.5), (12.1, 25.8),
    (12.25, 26.2), (12.39, 26.2), (12.54, 26.0), (12.68, 26.5), (12.8, 26.1), (12.9, 27.3), (12.97, 26.2),
    (13.07, 26.4), (13.16, 27.9), (13.22, 26.2), (13.33, 26.4), (13.48, 26.0), (13.55, 26.2), (13.59, 32.4),
    (13.65, 26.2), (13.77, 26.1), (13.94, 26.2), (14.13, 26.2), (14.32, 26.3), (14.49, 26.4), (14.64, 27.0),
    (14.71, 26.3), (14.86, 26.4), (15.04, 26.3), (15.22, 26.2), (15.4, 26.2), (15.58, 26.2), (15.72, 25.8),
    (15.87, 25.5), (16.01, 25.4), (16.16, 25.3), (16.3, 25.5), (16.45, 25.8), (16.52, 27.2), (16.59, 26.0),
    (16.7, 25.5), (16.84, 25.3), (16.99, 25.1), (17.13, 25.2), (17.28, 25.1), (17.42, 25.3), (17.57, 25.8),
    (17.68, 25.5), (17.83, 25.3), (17.97, 24.9), (18.12, 25.2), (18.26, 24.8), (18.41, 25.3), (18.55, 24.7),
    (18.7, 24.4), (18.84, 24.5), (18.99, 24.2), (19.13, 24.3), (19.28, 23.9), (19.42, 24.1), (19.57, 24.0),
    (19.71, 24.2), (19.86, 23.6), (20.0, 23.4), (20.14, 23.5), (20.29, 23.7), (20.43, 23.9), (20.58, 23.8),
    (20.72, 23.9)]


def xy(pairs):
    a = np.array(pairs, dtype=float)
    return a[:, 0], a[:, 1]


spectra = [
    [xy(spec_5min_01), xy(spec_5min_003), (f_5min_001, np.array(L_5min_001, dtype=float))],
    [xy(spec_1h_01), xy(spec_1h_003), xy(spec_1h_001)],
    [xy(spec_24h_01), xy(spec_24h_003), xy(spec_24h_001)],
]
terz = [
    [terz_5min_01, terz_5min_003, terz_5min_001],
    [terz_1h_01, terz_1h_003, terz_1h_001],
    [terz_24h_01, terz_24h_003, terz_24h_001],
]

# exact base-10 third-octave band edges
fm = np.array([10 ** (round(10 * np.log10(fc)) / 10) for fc in terz_fc])
edges = np.append(fm * 10 ** -0.05, fm[-1] * 10 ** 0.05)

W = 2048.0
cell = W / 3
ax_l, ax_t, ax_w, ax_h = 118.9, 118.9, 502.8, 415.3
fs = 17
lw = 2.0
dash = (4.7, 3.6)

# legend box geometry in pixels (R style: drawn by hand)
leg_w = [168.5, 181.5, 180.2]
leg_h = 86.0
leg_line = (21.0, 69.0)
leg_text_x = 87.5
leg_rows = (31.0, 59.7)

fig = plt.figure(figsize=(20.48, 20.48), dpi=100)

for r in range(3):
    for c in range(3):
        left = (c * cell + ax_l) / W
        bottom = 1 - (r * cell + ax_t + ax_h) / W
        ax = fig.add_axes([left, bottom, ax_w / W, ax_h / W])

        f, L = spectra[r][c]
        # the 0.01 Hz spectra are noisy and look heavier in the original
        ax.plot(f, L, color='black', lw=2.5 if (c == 2 and r > 0) else lw, zorder=2)

        lev = terz[r][c]
        n = len(lev)
        for i, e in enumerate(edges):
            top = max(lev[i - 1] if i > 0 else 0, lev[i] if i < n else 0)
            ax.plot([e, e], [0, top], color='red', lw=lw, dashes=dash, zorder=3)
        for i in range(n):
            ax.plot([edges[i], edges[i + 1]], [lev[i], lev[i]], color='red', lw=lw,
                    dashes=dash, zorder=3)

        ax.set_xlim(-0.8, 20.8)
        ax.set_ylim(18.4, 61.6)
        ax.set_xticks([0, 5, 10, 15, 20])
        ax.set_yticks([20, 30, 40, 50, 60])
        ax.set_yticklabels(['20', '30', '40', '50', '60'], rotation=90, va='center')
        ax.tick_params(direction='out', length=10.8, width=1.8, labelsize=fs)
        ax.tick_params(axis='x', pad=15)
        ax.tick_params(axis='y', pad=12)
        for s in ax.spines.values():
            s.set_linewidth(1.8)

        ax.text(0.5, 1.135, row_titles[r], transform=ax.transAxes, ha='center', va='center',
                fontsize=20.5, fontweight='bold')
        ax.text(0.5, -0.25, 'Frequenz [Hz]', transform=ax.transAxes, ha='center', va='center',
                fontsize=fs)
        ax.text(-0.1975, 0.5, 'Lautstärke [dB] re 20µPa', transform=ax.transAxes, ha='center',
                va='center', rotation=90, fontsize=fs)

        # legend
        x0 = 1 - leg_w[c] / ax_w
        y0 = 1 - leg_h / ax_h
        ax.add_patch(Rectangle((x0, y0), leg_w[c] / ax_w, leg_h / ax_h, transform=ax.transAxes,
                               facecolor='white', edgecolor='black', lw=1.8, zorder=5,
                               clip_on=False))
        entries = [(col_labels[c], 'black', None), ('Terz', 'red', dash)]
        for (lab, col, ds), dy in zip(entries, leg_rows):
            yk = 1 - dy / ax_h
            ln = Line2D([x0 + leg_line[0] / ax_w, x0 + leg_line[1] / ax_w], [yk, yk],
                        transform=ax.transAxes, color=col, lw=lw, zorder=6, clip_on=False)
            if ds is not None:
                ln.set_dashes(ds)
            ax.add_line(ln)
            ax.text(x0 + leg_text_x / ax_w, yk, lab, transform=ax.transAxes, ha='left',
                    va='center', fontsize=fs, zorder=6)

fig.savefig('out.png', dpi=100, facecolor='white')
